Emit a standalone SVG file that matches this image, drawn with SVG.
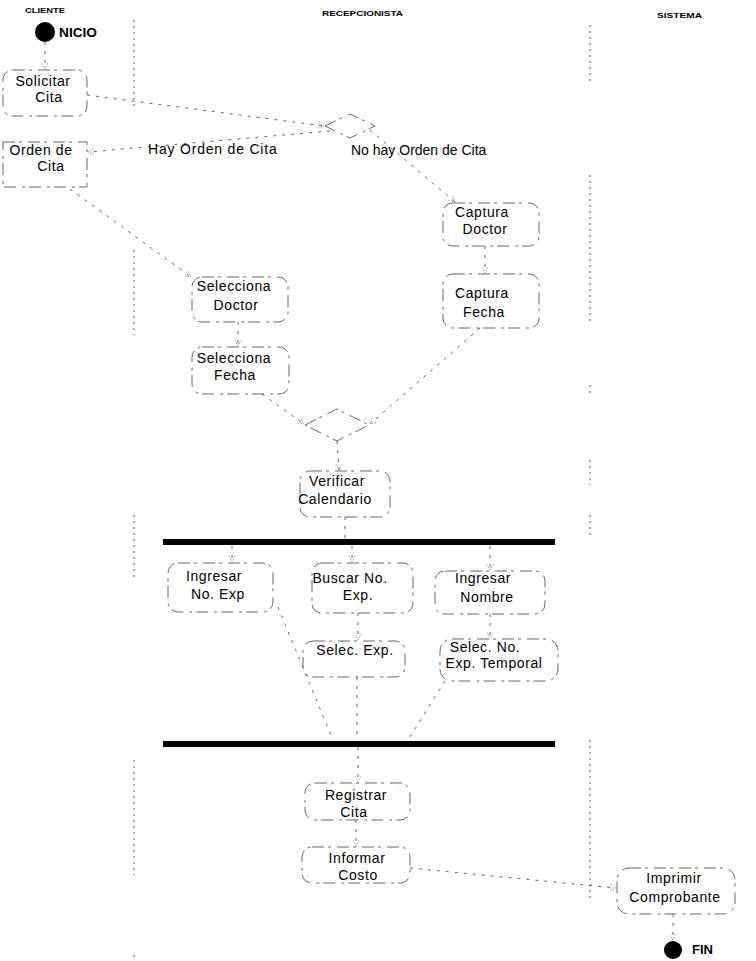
<svg xmlns="http://www.w3.org/2000/svg" width="756" height="961" viewBox="0 0 756 961">
  <defs>
    <style>
      .lane { font-family: "Liberation Sans", Arial, sans-serif; font-weight: bold; font-size: 7px; fill: #000; }
      .lbl { font-family: "Liberation Sans", Arial, sans-serif; font-size: 14px; letter-spacing: 0.6px; fill: #000; text-anchor: middle; }
      .guard { font-family: "Liberation Sans", Arial, sans-serif; font-size: 14px; fill: #000; }
      .term { font-family: "Liberation Sans", Arial, sans-serif; font-weight: bold; font-size: 12px; fill: #000; }
      .box { fill: none; stroke: #666; stroke-width: 1; stroke-dasharray: 12 4 3 6; }
      .edge { fill: none; stroke: #666; stroke-width: 1; stroke-dasharray: 3 6; }
      .divider { fill: none; stroke: #555; stroke-width: 1; stroke-dasharray: 2 4; }
      .bar { fill: #000; }
    </style>
    <marker id="arrow" viewBox="0 0 10 10" refX="9" refY="5" markerWidth="7" markerHeight="7" orient="auto">
      <path d="M1,1 L9,5 L1,9" fill="none" stroke="#666" stroke-width="1" stroke-dasharray="2 2"/>
    </marker>
  </defs>

  <rect width="756" height="961" fill="#fff"/>

  <!-- swimlane headers and dividers -->
  <g id="lanes">
    <text class="lane" x="25" y="13" textLength="40" lengthAdjust="spacingAndGlyphs">CLIENTE</text>
    <text class="lane" x="322" y="16" textLength="81" lengthAdjust="spacingAndGlyphs">RECEPCIONISTA</text>
    <text class="lane" x="657" y="18" textLength="45" lengthAdjust="spacingAndGlyphs">SISTEMA</text>
    <path class="divider" d="M134,20 V108 M134,250 V335 M134,515 V580 M134,760 V875 M134,955 V961"/>
    <path class="divider" d="M590,25 V85 M590,175 V325 M590,385 V395 M590,460 V485 M590,515 V535 M590,740 V900"/>
  </g>

  <!-- transitions -->
  <g id="connectors">
    <path class="edge" d="M45,42 L45,69" marker-end="url(#arrow)"/>
    <path class="edge" d="M87,95 L324,126" marker-end="url(#arrow)"/>
    <path class="edge" d="M330,131 L88,152" marker-end="url(#arrow)"/>
    <path class="edge" d="M370,130 L455,202" marker-end="url(#arrow)"/>
    <path class="edge" d="M70,189 L191,277" marker-end="url(#arrow)"/>
    <path class="edge" d="M485,246 L485,273" marker-end="url(#arrow)"/>
    <path class="edge" d="M238,322 L238,346" marker-end="url(#arrow)"/>
    <path class="edge" d="M262,394 L304,424" marker-end="url(#arrow)"/>
    <path class="edge" d="M480,328 L370,424" marker-end="url(#arrow)"/>
    <path class="edge" d="M337,441 L339,470" marker-end="url(#arrow)"/>
    <path class="edge" d="M345,517 L345,538"/>
    <path class="edge" d="M232,546 L232,562" marker-end="url(#arrow)"/>
    <path class="edge" d="M352,546 L352,562" marker-end="url(#arrow)"/>
    <path class="edge" d="M490,546 L490,570" marker-end="url(#arrow)"/>
    <path class="edge" d="M358,613 L358,640" marker-end="url(#arrow)"/>
    <path class="edge" d="M490,614 L490,638" marker-end="url(#arrow)"/>
    <path class="edge" d="M278,607 L333,740"/>
    <path class="edge" d="M357,677 L357,740"/>
    <path class="edge" d="M445,681 L408,740"/>
    <path class="edge" d="M358,747 L358,782" marker-end="url(#arrow)"/>
    <path class="edge" d="M356,820 L356,846" marker-end="url(#arrow)"/>
    <path class="edge" d="M410,868 L616,888" marker-end="url(#arrow)"/>
    <path class="edge" d="M673,914 L673,940" marker-end="url(#arrow)"/>
  </g>

  <!-- guard labels -->
  <text class="guard" x="148" y="154" letter-spacing="0.8">Hay Orden de Cita</text>
  <text class="guard" x="351" y="155">No hay Orden de Cita</text>

  <g id="inicio">
    <circle cx="45" cy="32" r="10" fill="#000"/>
    <text class="term" x="59" y="37" textLength="38" lengthAdjust="spacingAndGlyphs">NICIO</text>
  </g>

  <g id="solicitar-cita">
    <rect class="box" x="3" y="70" width="84" height="46" rx="10"/>
    <text class="lbl" x="43" y="86">Solicitar</text>
    <text class="lbl" x="49" y="102">Cita</text>
  </g>

  <g id="decision-orden">
    <path class="box" d="M325,126 L350,114 L375,126 L350,138 Z"/>
  </g>

  <g id="orden-de-cita">
    <rect class="box" x="3" y="142" width="84" height="45"/>
    <text class="lbl" x="41" y="155">Orden de</text>
    <text class="lbl" x="51" y="171">Cita</text>
  </g>

  <g id="captura-doctor">
    <rect class="box" x="443" y="203" width="96" height="43" rx="10"/>
    <text class="lbl" x="482" y="217">Captura</text>
    <text class="lbl" x="485" y="234">Doctor</text>
  </g>

  <g id="captura-fecha">
    <rect class="box" x="443" y="274" width="96" height="54" rx="10"/>
    <text class="lbl" x="482" y="298">Captura</text>
    <text class="lbl" x="484" y="317">Fecha</text>
  </g>

  <g id="selecciona-doctor">
    <rect class="box" x="192" y="277" width="96" height="45" rx="10"/>
    <text class="lbl" x="234" y="291">Selecciona</text>
    <text class="lbl" x="236" y="310">Doctor</text>
  </g>

  <g id="selecciona-fecha">
    <rect class="box" x="192" y="347" width="97" height="47" rx="10"/>
    <text class="lbl" x="234" y="363">Selecciona</text>
    <text class="lbl" x="235" y="380">Fecha</text>
  </g>

  <g id="merge">
    <path class="box" d="M305,425 L337,409 L369,425 L337,441 Z"/>
  </g>

  <g id="verificar-calendario">
    <rect class="box" x="300" y="471" width="90" height="46" rx="10"/>
    <text class="lbl" x="337" y="486">Verificar</text>
    <text class="lbl" x="335" y="504">Calendario</text>
  </g>

  <g id="fork">
    <rect class="bar" x="163" y="539" width="392" height="6"/>
  </g>

  <g id="ingresar-no-exp">
    <rect class="box" x="168" y="563" width="105" height="49" rx="10"/>
    <text class="lbl" x="214" y="581">Ingresar</text>
    <text class="lbl" x="218" y="599">No. Exp</text>
  </g>

  <g id="buscar-no-exp">
    <rect class="box" x="312" y="563" width="101" height="50" rx="10"/>
    <text class="lbl" x="350" y="583">Buscar No.</text>
    <text class="lbl" x="358" y="600">Exp.</text>
  </g>

  <g id="ingresar-nombre">
    <rect class="box" x="435" y="571" width="110" height="43" rx="10"/>
    <text class="lbl" x="483" y="583">Ingresar</text>
    <text class="lbl" x="487" y="602">Nombre</text>
  </g>

  <g id="selec-exp">
    <rect class="box" x="303" y="641" width="102" height="36" rx="10"/>
    <text class="lbl" x="355" y="655">Selec. Exp.</text>
  </g>

  <g id="selec-no-exp-temporal">
    <rect class="box" x="440" y="639" width="118" height="42" rx="12"/>
    <text class="lbl" x="485" y="652">Selec. No.</text>
    <text class="lbl" x="494" y="668">Exp. Temporal</text>
  </g>

  <g id="join">
    <rect class="bar" x="163" y="741" width="392" height="6"/>
  </g>

  <g id="registrar-cita">
    <rect class="box" x="305" y="783" width="105" height="37" rx="10"/>
    <text class="lbl" x="356" y="800">Registrar</text>
    <text class="lbl" x="354" y="817">Cita</text>
  </g>

  <g id="informar-costo">
    <rect class="box" x="302" y="847" width="108" height="36" rx="10"/>
    <text class="lbl" x="357" y="863">Informar</text>
    <text class="lbl" x="358" y="880">Costo</text>
  </g>

  <g id="imprimir-comprobante">
    <rect class="box" x="617" y="868" width="118" height="46" rx="12"/>
    <text class="lbl" x="674" y="883">Imprimir</text>
    <text class="lbl" x="675" y="902">Comprobante</text>
  </g>

  <g id="fin">
    <circle cx="673" cy="950" r="9" fill="#000"/>
    <text class="term" x="692" y="954" font-size="11" textLength="21" lengthAdjust="spacingAndGlyphs">FIN</text>
  </g>
</svg>
